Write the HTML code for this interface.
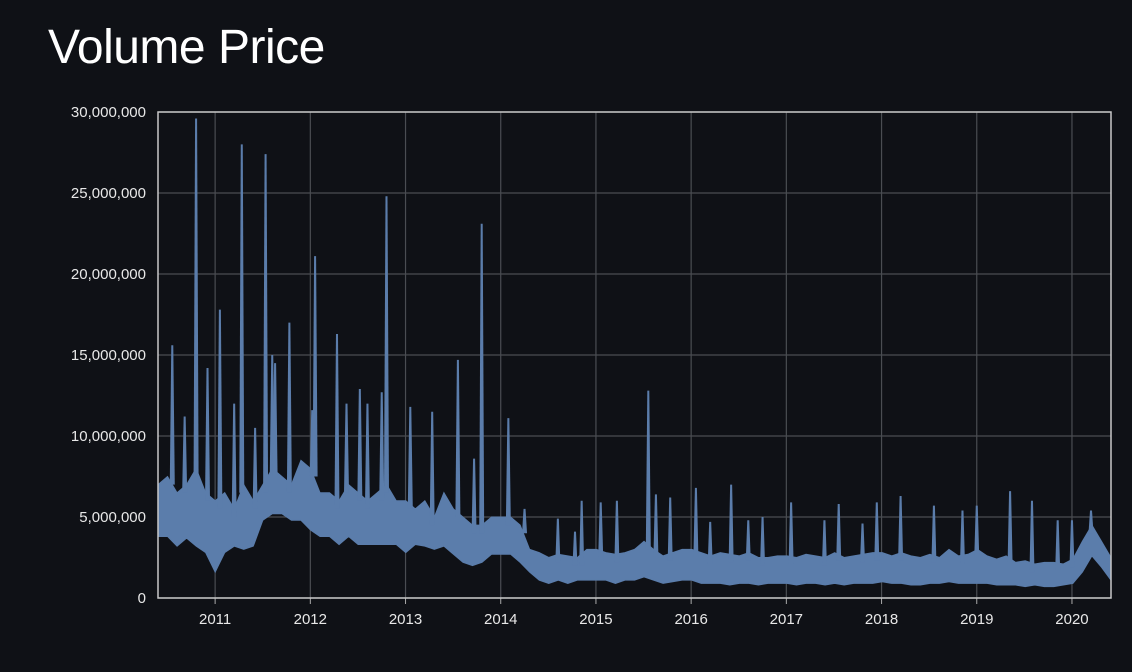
<!DOCTYPE html>
<html><head><meta charset="utf-8"><style>
body{margin:0;background:#0f1116;width:1132px;height:672px;overflow:hidden;font-family:"Liberation Sans",sans-serif}
h1{position:absolute;left:48px;top:20px;margin:0;font-weight:400;font-size:48px;color:#fff;letter-spacing:-0.5px}
</style></head><body>
<h1>Volume Price</h1>
<svg id="c" width="1132" height="672" style="position:absolute;left:0;top:0"></svg>
<script>
const yTicks=[0,5000000,10000000,15000000,20000000,25000000,30000000];
const yearTicks=[2011,2012,2013,2014,2015,2016,2017,2018,2019,2020];
const bandHigh=[7,7.5,6.5,7,8,6.5,6,6.5,5.5,7,6,7,8,7.5,7,8.5,8,6.5,6.5,6,7,6.5,6,6.5,7,6,6,5.5,6,5,6.5,5.5,5,4.5,4.5,5,5,5,4.5,3,2.8,2.5,2.7,2.6,2.5,3,3,2.8,2.7,2.8,3,3.5,3,2.6,2.8,3,3,2.8,2.6,2.8,2.7,2.6,2.8,2.5,2.5,2.6,2.6,2.5,2.7,2.6,2.5,2.8,2.5,2.6,2.7,2.8,2.8,2.6,2.8,2.6,2.5,2.7,2.5,3,2.6,2.7,3,2.6,2.4,2.6,2.2,2.3,2.1,2.2,2.2,2.1,2.4,3.5,4.5,3.5,2.5];
const bandLow=[3.8,3.8,3.2,3.7,3.2,2.8,1.6,2.8,3.2,3,3.2,4.8,5.2,5.2,4.8,4.8,4.2,3.8,3.8,3.3,3.8,3.3,3.3,3.3,3.3,3.3,2.8,3.3,3.2,3,3.2,2.7,2.2,2,2.2,2.7,2.7,2.7,2.2,1.6,1.1,0.9,1.1,0.9,1.1,1.1,1.1,1.1,0.9,1.1,1.1,1.3,1.1,0.9,1,1.1,1.1,0.9,0.9,0.9,0.8,0.9,0.9,0.8,0.9,0.9,0.9,0.8,0.9,0.9,0.8,0.9,0.8,0.9,0.9,0.9,1,0.9,0.9,0.8,0.8,0.9,0.9,1,0.9,0.9,0.9,0.9,0.8,0.8,0.8,0.7,0.8,0.7,0.7,0.8,0.9,1.6,2.6,1.9,1.1];
const spikeDates=[2010.55,2010.68,2010.8,2010.92,2011.05,2011.2,2011.28,2011.42,2011.53,2011.6,2011.63,2011.78,2012.02,2012.05,2012.28,2012.38,2012.52,2012.6,2012.75,2012.8,2013.05,2013.28,2013.55,2013.72,2013.8,2014.08,2014.25,2014.6,2014.78,2014.85,2015.05,2015.22,2015.55,2015.63,2015.78,2016.05,2016.2,2016.42,2016.6,2016.75,2017.05,2017.4,2017.55,2017.8,2017.95,2018.2,2018.55,2018.85,2019.0,2019.35,2019.58,2019.85,2020.0,2020.2];
const spikeValues=[15.6,11.2,29.6,14.2,17.8,12,28,10.5,27.4,15,14.5,17,11.6,21.1,16.3,12,12.9,12,12.7,24.8,11.8,11.5,14.7,8.6,23.1,11.1,5.5,4.9,4.1,6,5.9,6,12.8,6.4,6.2,6.8,4.7,7,4.8,5,5.9,4.8,5.8,4.6,5.9,6.3,5.7,5.4,5.7,6.6,6,4.8,4.8,5.4];
const X0=158,X1=1111,Y0=598,Y1=112,T0=2010.4,T1=2020.41;
const xs=t=>X0+(t-T0)/(T1-T0)*(X1-X0);
const ys=v=>Y0-v/30000000*(Y0-Y1);
const ym=m=>ys(m*1e6);
const svg=document.getElementById('c');const NS='http://www.w3.org/2000/svg';
function mk(tag,attrs){const e=document.createElementNS(NS,tag);for(const k in attrs)e.setAttribute(k,attrs[k]);svg.appendChild(e);return e;}
yTicks.forEach(v=>{const y=ys(v);
const g=mk('line',{x1:X0,x2:X1,y1:y,y2:y,stroke:'#4a4d52','stroke-width':1.2});


const t=mk('text',{x:146,y:y+5,'text-anchor':'end',fill:'#e8e8e8','font-size':15,'font-family':'Liberation Sans, sans-serif'});t.textContent=v.toLocaleString('en-US');


});
yearTicks.forEach(yr=>{const x=xs(yr);
const g=mk('line',{x1:x,x2:x,y1:Y1,y2:Y0,stroke:'#4a4d52','stroke-width':1.2});


mk('line',{x1:x,x2:x,y1:Y0,y2:Y0+6,stroke:'#aaa'});
const t=mk('text',{x:x,y:Y0+26,'text-anchor':'middle',fill:'#e8e8e8','font-size':15,'font-family':'Liberation Sans, sans-serif'});t.textContent=yr;


});
const n=bandHigh.length;const step=(T1-T0)/(n-1);
let pts=[];for(let i=0;i<n;i++)pts.push(xs(T0+i*step)+','+ym(bandHigh[i]));
for(let i=n-1;i>=0;i--)pts.push(xs(T0+i*step)+','+ym(bandLow[i]));
const band=mk('polygon',{points:pts.join(' '),fill:'#5b7dab',stroke:'#5b7dab','stroke-width':1});


spikeDates.forEach((t,i)=>{const x=xs(t);const idx=Math.min(n-1,Math.round((t-T0)/step));
const base=ym(bandHigh[idx]-0.5);
const p=mk('polygon',{points:`${x-2.5},${base} ${x-1},${ym(spikeValues[i])} ${x+1},${ym(spikeValues[i])} ${x+2.5},${base}`,fill:'#5b7dab'});


});
const fr=mk('rect',{x:X0,y:Y1,width:X1-X0,height:Y0-Y1,fill:'none',stroke:'#c8c8c8','stroke-width':1.5});


</script>
</body></html>
